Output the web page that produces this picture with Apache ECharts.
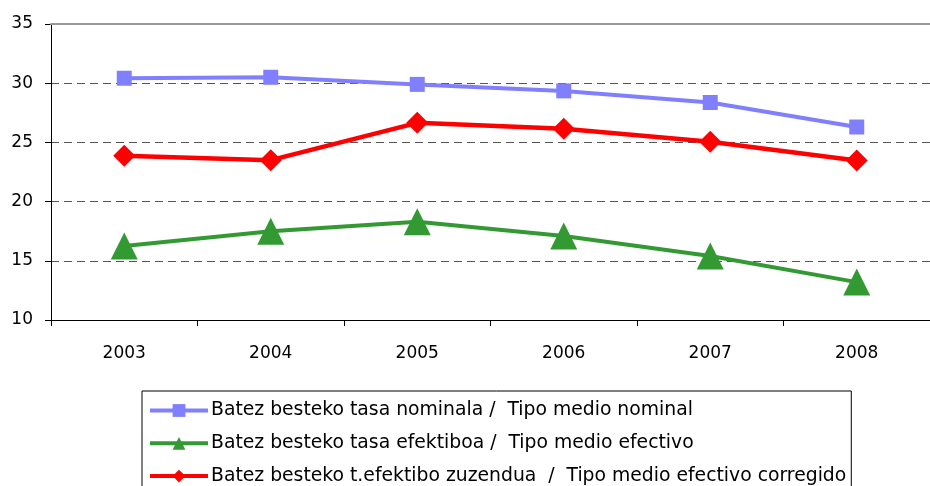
<!DOCTYPE html>
<html>
<head>
<meta charset="utf-8">
<script src="https://cdn.jsdelivr.net/npm/echarts@6/dist/echarts.min.js"></script>
<style>
  html, body { margin: 0; padding: 0; background: #fff; }
  #chart { width: 930px; height: 486px; }
</style>
</head>
<body>
<div id="chart"></div>
<script>
// years on the x axis
const years = ['2003', '2004', '2005', '2006', '2007', '2008'];

// series values
const nominal = [30.42, 30.5, 29.9, 29.35, 28.37, 26.3];
const efectivo = [16.25, 17.5, 18.3, 17.1, 15.4, 13.2];
const corregido = [23.88, 23.5, 26.65, 26.15, 25.05, 23.48];

const names = [
  'Batez besteko tasa nominala /  Tipo medio nominal',
  'Batez besteko tasa efektiboa /  Tipo medio efectivo',
  'Batez besteko t.efektibo zuzendua  /  Tipo medio efectivo corregido'
];

const font = 'DejaVu Sans, Liberation Sans, Arial, sans-serif';

const chart = echarts.init(document.getElementById('chart'), null, { renderer: 'canvas' });

const option = {
  animation: false,
  backgroundColor: '#fff',
  textStyle: { fontFamily: font },
  grid: { left: 51, top: 24, right: -12, bottom: 166 },
  legend: {
    orient: 'vertical',
    left: 142,
    top: 391,
    height: 200,
    padding: [10, 5, 30, 6],
    borderColor: '#000',
    borderWidth: 1,
    itemWidth: 58,
    itemHeight: 16,
    itemGap: 13.8,
    lineStyle: { width: 4 },
    textStyle: { fontFamily: font, fontSize: 18.8, color: '#000', padding: [0, 0, 0, -2] },
    data: names
  },
  xAxis: [{
    type: 'category',
    data: years,
    boundaryGap: true,
    axisLine: { lineStyle: { color: '#000', width: 1 } },
    axisTick: { show: true, inside: false, length: 6, lineStyle: { color: '#000' } },
    axisLabel: { color: '#000', fontSize: 17, fontFamily: font, margin: 25 },
    splitLine: { show: false }
  }, {
    // grey top border of the plot area
    type: 'category',
    data: years,
    position: 'top',
    axisLine: { lineStyle: { color: '#999', width: 2 } },
    axisTick: { show: false },
    axisLabel: { show: false },
    z: 5
  }],
  yAxis: {
    type: 'value',
    min: 10,
    max: 35,
    interval: 5,
    axisLine: { show: true, lineStyle: { color: '#000', width: 1 } },
    axisTick: { show: true, length: 6, lineStyle: { color: '#000' } },
    axisLabel: { color: '#000', fontSize: 17, fontFamily: font, margin: 18 },
    splitLine: {
      show: true,
      lineStyle: { color: '#555', width: 1, type: [8, 5] }
    }
  },
  series: [
    {
      name: names[0],
      type: 'line',
      data: nominal,
      symbol: 'rect',
      symbolSize: 15,
      color: '#8080FF',
      lineStyle: { width: 4, color: '#8080FF' },
      itemStyle: { color: '#8080FF' },
      z: 3
    },
    {
      name: names[1],
      type: 'line',
      data: efectivo,
      symbol: 'triangle',
      symbolSize: [27, 27],
      color: '#339933',
      lineStyle: { width: 4, color: '#339933' },
      itemStyle: { color: '#339933' },
      z: 3
    },
    {
      name: names[2],
      type: 'line',
      data: corregido,
      symbol: 'diamond',
      symbolSize: 22,
      color: '#FF0000',
      lineStyle: { width: 4.5, color: '#FF0000' },
      itemStyle: { color: '#FF0000' },
      z: 3
    }
  ]
};

chart.setOption(option);
</script>
</body>
</html>
